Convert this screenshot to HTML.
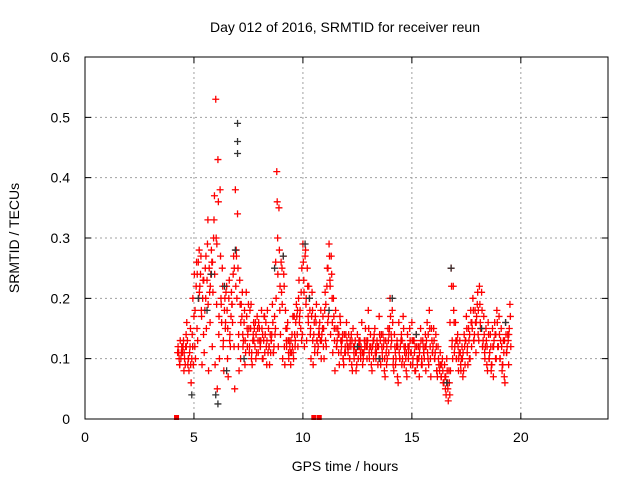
<!DOCTYPE html>
<html><head><meta charset="utf-8"><style>
body{margin:0;background:#fff}
svg{display:block;font-family:"Liberation Sans",sans-serif}
</style></head><body>
<svg id="chart" width="640" height="480">
<text x="345" y="32" text-anchor="middle" font-size="14">Day 012 of 2016, SRMTID for receiver reun</text>
<text x="345" y="471" text-anchor="middle" font-size="14">GPS time / hours</text>
<text transform="translate(19,238) rotate(-90)" text-anchor="middle" font-size="14">SRMTID / TECUs</text>
<g id="grid"></g>
<g id="axes"></g>
<g id="marks"></g>
<rect x="85" y="57" width="523" height="362" fill="none" stroke="#000"/>
</svg>
<script>
const xTicks=[0,5,10,15,20];
const yTicks=[0,0.1,0.2,0.3,0.4,0.5,0.6];
const yTickLabels=["0","0.1","0.2","0.3","0.4","0.5","0.6"];
const t0=4.3, dt=0.1;
const redA=[11,10,12,9,13,11,10,
17,22,26,24,20,18,23,25,28,30,
53,43,38,25,18,22,20,17,24,38,
34,23,17,16,21,19,15,13,12,17,
15,18,13,16,11,14,19,17,41,35,
26,27,18,16,12,14,17,19,20,15,
29,27,25,20,17,14,16,12,13,15,
18,22,29,27,20,18,15,17,13,14,
16,14,12,15,13,14,12,16,11,13,
18,14,12,15,13,17,14,12,13,15,
20,18,14,12,16,13,17,12,14,15,
16,13,14,12,15,13,12,16,18,15,
15,14,12,11,10,9,10,8,25,22,
16,14,13,12,14,17,15,18,20,18,
19,22,21,17,15,16,14,15,16,18,
17,15,13,16,14,19];
const redB=[9,12,8,14,10,15,12,
12,15,28,18,14,20,33,16,12,37,
19,14,20,12,15,10,13,19,12,28,
12,10,14,9,15,11,10,16,10,13,
12,10,17,9,12,13,11,15,30,18,
25,22,13,11,9,17,12,14,16,13,
23,19,17,14,18,11,13,15,10,12,
13,16,23,20,15,12,11,13,10,12,
12,10,9,11,8,10,11,9,12,10,
11,9,10,12,9,10,11,8,9,11,
12,9,11,7,10,9,12,8,10,9,
9,8,10,7,9,11,8,10,12,11,
10,8,9,7,6,5,6,4,12,16,
10,8,9,7,9,11,10,12,13,11,
14,16,12,11,9,10,8,7,10,12,
10,8,7,11,9,12];
const redC=[12,13,11,10,16,8,6,
9,10,13,22,9,11,15,8,24,21,
9,5,10,16,8,21,7,12,16,5,
20,8,19,13,11,14,18,9,15,11,
16,13,10,14,18,9,14,12,20,12,
14,10,9,15,13,11,10,16,12,18,
14,12,13,22,10,9,17,11,16,14,
10,12,17,14,11,8,13,9,12,9,
14,11,13,8,12,9,13,12,10,15,
13,12,8,14,11,12,9,14,7,10,
15,13,8,10,6,12,10,11,7,12,
11,13,8,10,12,9,10,13,9,7,
12,11,7,8,9,6,4,3,8,10,
12,13,11,10,8,13,9,10,15,14,
17,13,15,13,12,8,11,9,13,10,
12,13,9,6,12,15];
const redD=[10,11,13,12,9,12,14,
24,26,20,27,23,25,29,21,26,33,
30,36,27,22,20,18,23,21,27,22,
25,19,21,18,17,15,19,14,16,15,
13,15,17,12,15,11,16,14,36,28,
21,24,15,13,11,12,14,17,23,21,
26,28,22,18,21,16,19,14,18,17,
21,25,27,24,17,15,14,16,14,11,
13,12,14,12,11,12,13,11,13,12,
15,12,13,11,12,14,12,13,11,13,
17,16,12,13,11,14,15,10,12,13,
13,11,12,10,13,12,14,11,15,13,
13,12,10,9,8,7,8,6,22,18,
13,12,11,10,12,15,13,16,18,16,
21,19,18,14,13,14,12,12,14,16,
14,12,11,14,13,17];
const redE=[11,9,12,11,12,10,9,
20,18,24,21,17,23,27,19,22,26,
24,29,17,19,13,16,15,14,19,25,
27,14,16,12,13,12,12,11,13,14,
11,12,14,11,13,12,13,11,26,24,
22,19,12,12,10,13,11,13,18,17,
25,21,20,16,15,13,12,13,14,13,
15,19,25,22,16,13,12,14,11,10,
11,12,10,13,10,11,12,10,11,12,
12,10,11,13,10,12,13,10,10,12,
14,14,10,9,12,10,13,9,11,11,
11,10,12,9,11,10,11,12,14,10,
11,10,8,9,7,6,7,5,16,13,
11,10,10,8,11,13,12,14,16,13,
16,18,15,12,10,12,10,9,12,14,
12,10,9,13,11,14];
const blackT=[7.0,7.0,7.0,6.9,6.0,6.1,4.9,5.2,5.6,6.4,7.3,8.7,9.1,10.1,10.3,14.1,15.2,16.8,16.6,18.2,19.3,12.5,13.5,11.2,6.5,5.8];
const blackV=[0.49,0.46,0.44,0.28,0.04,0.025,0.04,0.2,0.18,0.22,0.1,0.25,0.27,0.29,0.2,0.2,0.14,0.25,0.06,0.15,0.16,0.12,0.1,0.18,0.08,0.24];
const zeroT=[4.2,10.5,10.75];
const NS="http://www.w3.org/2000/svg";
const X=t=>85+t*(523/24);
const Y=v=>419-v*(362/0.6);
function mk(tag,attrs,parent){const e=document.createElementNS(NS,tag);for(const k in attrs)e.setAttribute(k,attrs[k]);parent.appendChild(e);return e;}
const grid=document.getElementById('grid'),axes=document.getElementById('axes'),marks=document.getElementById('marks');
xTicks.forEach(t=>{
 if(t>0){const l=mk('line',{x1:X(t),x2:X(t),y1:57,y2:419,stroke:'#a0a0a0','stroke-dasharray':'2,3'},grid);
 
 }
 const tk=mk('path',{d:`M${X(t)},419v-6M${X(t)},57v6`,stroke:'#000'},axes);
 
 
 const tx=mk('text',{x:X(t),y:442,'text-anchor':'middle','font-size':'14'},axes);tx.textContent=t;
 
 
});
yTicks.forEach((v,i)=>{
 if(v>0&&v<0.6){const l=mk('line',{x1:85,x2:608,y1:Y(v),y2:Y(v),stroke:'#a0a0a0','stroke-dasharray':'2,3'},grid);
 
 }
 const tk=mk('path',{d:`M85,${Y(v)}h6M608,${Y(v)}h-6`,stroke:'#000'},axes);
 
 
 const tx=mk('text',{x:70,y:Y(v)+5,'text-anchor':'end','font-size':'14'},axes);tx.textContent=yTickLabels[i];
 
 
});
function plus(t,v,col){
 const x=X(t),y=Y(v);
 const p=mk('path',{d:`M${x-3.5},${y}h7M${x},${y-3.5}v7`,stroke:col,'stroke-width':'1.3'},marks);
 
 
}
const series=[redA,redB,redC,redD,redE];
const offs=[0,0.04,-0.03,0.02,-0.05];
series.forEach((arr,s)=>arr.forEach((v,i)=>plus(t0+i*dt+offs[s],v/100,'#ff0000')));
blackT.forEach((t,i)=>plus(t,blackV[i],'#333'));
zeroT.forEach(t=>{
 const r=mk('rect',{x:X(t)-2.5,y:415,width:5,height:5,fill:'#ff0000'},marks);
 
 
});
</script>
</body></html>
